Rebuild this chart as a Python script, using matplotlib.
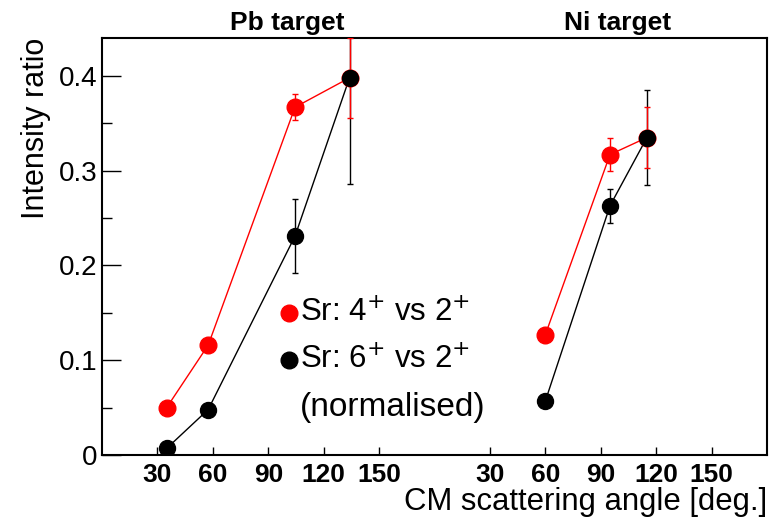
import matplotlib
matplotlib.use("Agg")
import matplotlib.pyplot as plt

plt.rcParams['font.family'] = ['Liberation Sans', 'DejaVu Sans']

# Pb target data (angle in deg, ratio, error)
pb_angle = [35, 57.5, 104.5, 134]
pb_r4 = [0.050, 0.116, 0.367, 0.398]
pb_r4_err = [0.0, 0.0, 0.014, 0.042]
pb_r6 = [0.007, 0.048, 0.231, 0.398]
pb_r6_err = [0.0, 0.005, 0.039, 0.112]

# Ni target data
ni_angle = [60, 95, 115]
ni_r4 = [0.127, 0.317, 0.335]
ni_r4_err = [0.0, 0.017, 0.032]
ni_r6 = [0.057, 0.263, 0.335]
ni_r6_err = [0.0, 0.018, 0.050]

tick_angles = [30, 60, 90, 120, 150]
panel_titles = ["Pb target", "Ni target"]
legend_labels = ["Sr: 4$^{+}$ vs 2$^{+}$", "Sr: 6$^{+}$ vs 2$^{+}$", "(normalised)"]

NI_OFFSET = 180  # Ni panel drawn to the right of the Pb panel

fig = plt.figure(figsize=(7.78, 5.25), dpi=100)
ax = fig.add_axes([0.1311, 0.1333, 0.8548, 0.7943])

ms = 12
for angles, r4, e4, r6, e6 in [(pb_angle, pb_r4, pb_r4_err, pb_r6, pb_r6_err),
                               (ni_angle, ni_r4, ni_r4_err, ni_r6, ni_r6_err)]:
    off = NI_OFFSET if angles is ni_angle else 0
    xs = [a + off for a in angles]
    # error bars
    ax.errorbar(xs, r6, yerr=e6, fmt='none', ecolor='black', elinewidth=1,
                capsize=2.5, capthick=1, zorder=2)
    ax.errorbar(xs, r4, yerr=e4, fmt='none', ecolor='red', elinewidth=1,
                capsize=2.5, capthick=1, zorder=3)
    # lines + markers
    ax.plot(xs, r4, '-', color='red', lw=1, zorder=4)
    ax.plot(xs, r6, '-', color='black', lw=1, zorder=4)
    ax.plot(xs, r4, 'o', color='red', ms=ms, mec='red', zorder=5)
    ax.plot(xs, r6, 'o', color='black', ms=ms - 0.5, mec='black', zorder=6)

ax.set_xlim(0, 360)
ax.set_ylim(0, 0.44)

ax.set_xticks(tick_angles + [a + NI_OFFSET for a in tick_angles])
ax.set_xticklabels([str(a) for a in tick_angles] * 2, fontweight='bold', fontsize=19)
ax.set_yticks([0, 0.1, 0.2, 0.3, 0.4])
ax.set_yticklabels(['0', '0.1', '0.2', '0.3', '0.4'], fontsize=20)
ax.set_yticks([0.05, 0.15, 0.25, 0.35], minor=True)

ax.tick_params(axis='x', direction='in', length=6, width=1, pad=6, top=False)
ax.tick_params(axis='y', which='major', direction='in', length=14, width=1, pad=3, right=False)
ax.tick_params(axis='y', which='minor', direction='in', length=7, width=1, right=False)

for sp in ax.spines.values():
    sp.set_linewidth(1.5)

ax.set_ylabel("Intensity ratio", fontsize=22, loc='top', labelpad=6)
ax.set_xlabel("CM scattering angle [deg.]", fontsize=22.4, loc='right', labelpad=0)

# panel titles
ax.text(0.278, 1.019, panel_titles[0], transform=ax.transAxes, ha='center', va='baseline',
        fontsize=19, fontweight='bold')
ax.text(0.776, 1.019, panel_titles[1], transform=ax.transAxes, ha='center', va='baseline',
        fontsize=19, fontweight='bold')

# legend drawn as text rows
for i, (lab, y) in enumerate(zip(legend_labels, [0.150, 0.100, 0.050])):
    if i < 2:
        ax.plot([101.5], [y], 'o', color=['red', 'black'][i], ms=ms, zorder=6,
                clip_on=False)
    ax.text(107, y, lab, fontsize=22.5 if i < 2 else 24, va='center', ha='left')

fig.savefig("out.png", dpi=100)
